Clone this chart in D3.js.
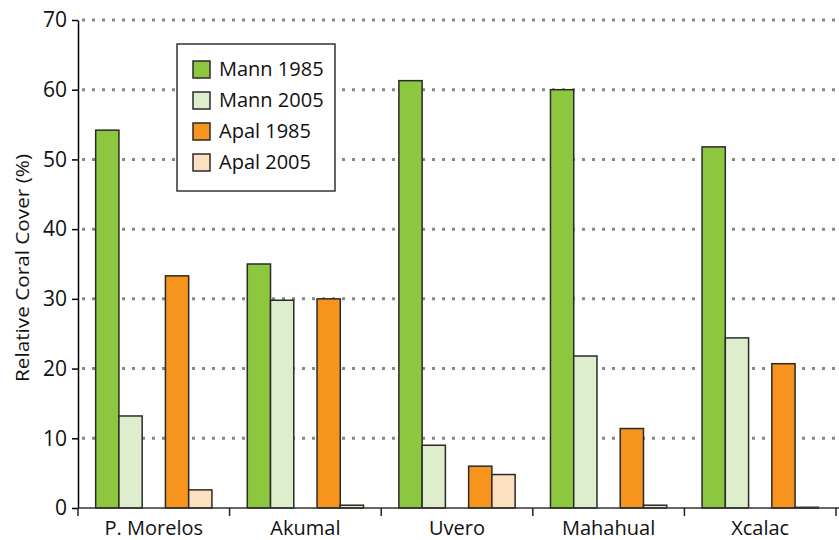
<!DOCTYPE html>
<html>
<head>
<meta charset="utf-8">
<script src="https://cdn.jsdelivr.net/npm/d3@7"></script>
<style>
  body { margin: 0; background: #fff; }
  svg { display: block; font-family: "Open Sans", sans-serif; }
</style>
</head>
<body>
<svg></svg>
<script>
const width = 839, height = 540;
const svg = d3.select("svg").attr("width", width).attr("height", height);

// Data
const sites = ["P. Morelos", "Akumal", "Uvero", "Mahahual", "Xcalac"];
const seriesNames = ["Mann 1985", "Mann 2005", "Apal 1985", "Apal 2005"];
const mann1985 = [54.2, 35.0, 61.3, 60.0, 51.8];
const mann2005 = [13.2, 29.8, 9.0, 21.8, 24.4];
const apal1985 = [33.3, 30.0, 6.0, 11.4, 20.7];
const apal2005 = [2.6, 0.4, 4.8, 0.4, 0.1];
const yTicks = [0, 10, 20, 30, 40, 50, 60, 70];

const colors = ["#8dc63f", "#deedcb", "#f7941d", "#fde0bf"];
const allSeries = [mann1985, mann2005, apal1985, apal2005];

const margin = { left: 78, right: 3, top: 20, bottom: 32 };

const x = d3.scaleBand().domain(sites).range([margin.left, 836]).paddingInner(0).paddingOuter(0);
// slots inside a band: two bars, a gap, two bars
const slot = d3.scaleBand().domain([0, 1, "gap", 2, 3]).range([0, x.bandwidth()]).paddingOuter(0.76).paddingInner(0);
const y = d3.scaleLinear().domain([0, 70]).range([height - margin.bottom, margin.top]);

// grid lines (dotted)
svg.append("g")
  .selectAll("line")
  .data(yTicks.filter(d => d > 0))
  .enter().append("line")
  .attr("x1", margin.left + 4)
  .attr("x2", width)
  .attr("y1", d => y(d))
  .attr("y2", d => y(d))
  .attr("stroke", "#888")
  .attr("stroke-width", 3)
  .attr("stroke-dasharray", "3,7");

// bars
const groups = svg.append("g").selectAll("g")
  .data(sites)
  .enter().append("g")
  .attr("transform", d => `translate(${x(d)},0)`);

groups.selectAll("rect")
  .data((site, i) => allSeries.map((s, k) => ({ k: k, v: s[i] })))
  .enter().append("rect")
  .attr("x", d => slot(d.k))
  .attr("width", slot.bandwidth())
  .attr("y", d => y(d.v))
  .attr("height", d => y(0) - y(d.v))
  .attr("fill", d => colors[d.k])
  .attr("stroke", "#2a2a2a")
  .attr("stroke-width", 1.5);

// y axis
const yAxis = svg.append("g")
  .attr("transform", `translate(${margin.left},0)`)
  .call(d3.axisLeft(y).tickValues(yTicks).tickSize(6).tickPadding(5).tickSizeOuter(0));
yAxis.select(".domain").attr("stroke", "#000").attr("stroke-width", 1.5);
yAxis.selectAll(".tick line").attr("stroke", "#000").attr("stroke-width", 1.5);
yAxis.selectAll("text").attr("font-size", 21).attr("fill", "#111")
  .attr("font-family", "Open Sans, sans-serif");

// x axis
const xAxis = svg.append("g")
  .attr("transform", `translate(0,${y(0)})`)
  .call(d3.axisBottom(x).tickSize(0).tickPadding(13));
xAxis.select(".domain").attr("d", `M${margin.left},0H${width}`).attr("stroke", "#333").attr("stroke-width", 1.5);
xAxis.selectAll("text").attr("font-size", 20).attr("fill", "#111")
  .attr("font-family", "Open Sans, sans-serif");

// band boundary ticks
const bounds = sites.map(s => x(s)).concat([x(sites[sites.length - 1]) + x.bandwidth()]);
svg.append("g").selectAll("line")
  .data(bounds)
  .enter().append("line")
  .attr("x1", d => d).attr("x2", d => d)
  .attr("y1", y(0)).attr("y2", y(0) + 8)
  .attr("stroke", "#222").attr("stroke-width", 1.5);

// y axis title
svg.append("text")
  .attr("transform", "translate(29,268) rotate(-90)")
  .attr("text-anchor", "middle")
  .attr("font-size", 18)
  .attr("textLength", 228)
  .attr("lengthAdjust", "spacingAndGlyphs")
  .attr("fill", "#111")
  .text("Relative Coral Cover (%)");

// legend
const legend = svg.append("g").attr("transform", "translate(177,44)");
legend.append("rect")
  .attr("width", 158).attr("height", 147)
  .attr("fill", "#fff").attr("stroke", "#333").attr("stroke-width", 1.5);
const items = legend.selectAll("g.item")
  .data(seriesNames)
  .enter().append("g")
  .attr("class", "item")
  .attr("transform", (d, i) => `translate(16,${17 + i * 31})`);
items.append("rect")
  .attr("width", 17).attr("height", 17)
  .attr("fill", (d, i) => colors[i])
  .attr("stroke", "#2a2a2a").attr("stroke-width", 1.5);
items.append("text")
  .attr("x", 26).attr("y", 15)
  .attr("font-size", 20)
  .attr("fill", "#111")
  .text(d => d);
</script>
</body>
</html>
